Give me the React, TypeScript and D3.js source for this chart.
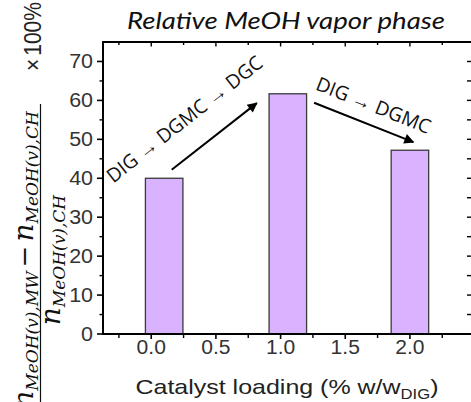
import React from "react";
import * as d3 from "d3";

// ---- data ----
const loadings = [0.0, 1.0, 2.0];
const barCenters = [0.1, 1.056, 2.0];
const values = [40.0, 61.7, 47.2];
const xTicks = [0, 0.5, 1.0, 1.5, 2.0];
const xMinorTicks = [-0.25, 0.25, 0.75, 1.25, 1.75, 2.25];
const yTicks = [0, 10, 20, 30, 40, 50, 60, 70];
const yMinorTicks = [5, 15, 25, 35, 45, 55, 65];
const arrows = [
  { x1: 0.158, y1: 42.2, x2: 0.816, y2: 59.3, label: "DIG → DGMC → DGC", lx: 0.254, ly: 55.3 },
  { x1: 1.259, y1: 59.4, x2: 2.027, y2: 49.3, label: "DIG → DGMC", lx: 1.72, ly: 58.9 },
];
const title = "Relative MeOH vapor phase";

const W = 471;
const H = 402;
const L = 103, R = 472, T = 42, B = 334;

export default function App() {
  const x = d3.scaleLinear().domain([-0.373, 2.48]).range([L, R]);
  const y = d3.scaleLinear().domain([0, 75]).range([B, T]);
  const bw = x(0.29) - x(0);
  const tickFont = "Liberation Sans, Arial, sans-serif";
  const fc = 260; // centre of the y-title fraction

  return (
    <svg width={W} height={H} style={{ position: "fixed", left: 0, top: 0, background: "#fff" }}>
      <defs>
        <marker id="ah" viewBox="0 0 10 10" refX="9" refY="5" markerWidth="6" markerHeight="5" orient="auto" markerUnits="strokeWidth">
          <path d="M0,0 L10,5 L0,10 z" fill="#000" />
        </marker>
      </defs>
      <rect x={0} y={0} width={W} height={H} fill="#fff" />
      {/* title */}
      <text x={286} y={29} textAnchor="middle" fontFamily="Lato, Open Sans, sans-serif" fontStyle="italic" fontSize={23}
        fill="#111" textLength={318} lengthAdjust="spacingAndGlyphs">
        {title}
      </text>

      {/* bars */}
      {values.map((v, i) => (
        <rect key={loadings[i]} x={x(barCenters[i]) - bw / 2} y={y(v)} width={bw} height={y(0) - y(v)}
          fill="#d9b3ff" stroke="#3a3a3a" strokeWidth={1.3} />
      ))}

      {/* frame */}
      <line x1={L} x2={L} y1={T - 1} y2={B + 1} stroke="#000" strokeWidth={2} />
      <line x1={L - 1} x2={R} y1={B} y2={B} stroke="#000" strokeWidth={2} />
      <line x1={L - 1} x2={R} y1={T} y2={T} stroke="#000" strokeWidth={2} />
      <line x1={R} x2={R} y1={T} y2={B} stroke="#000" strokeWidth={2} />

      {/* left ticks */}
      {yTicks.map((t) => (
        <g key={"yl" + t}>
          <line x1={L - 6} x2={L} y1={y(t)} y2={y(t)} stroke="#000" strokeWidth={1.6} />
          <text transform={`translate(93,${y(t) + 7}) scale(1.1,1)`} textAnchor="end" fontFamily={tickFont} fontSize={19.5} fill="#333">{t}</text>
        </g>
      ))}
      {yMinorTicks.map((t) => (
        <line key={"ym" + t} x1={L - 3.5} x2={L} y1={y(t)} y2={y(t)} stroke="#000" strokeWidth={1.4} />
      ))}
      {/* right ticks (inward) */}
      {[...yTicks, ...yMinorTicks].filter((t) => t > 0).map((t) => (
        <line key={"yr" + t} x1={R - 5} x2={R} y1={y(t)} y2={y(t)} stroke="#000" strokeWidth={1.4} />
      ))}

      {/* bottom ticks */}
      {xTicks.map((t) => (
        <g key={"xb" + t}>
          <line x1={x(t)} x2={x(t)} y1={B} y2={B + 5} stroke="#000" strokeWidth={1.6} />
          <text transform={`translate(${x(t)},354) scale(1.08,1)`} textAnchor="middle" fontFamily={tickFont} fontSize={19.5} fill="#333">{t.toFixed(1)}</text>
        </g>
      ))}
      {xMinorTicks.map((t) => (
        <line key={"xm" + t} x1={x(t)} x2={x(t)} y1={B} y2={B + 4} stroke="#000" strokeWidth={1.4} />
      ))}
      {/* top ticks (inward) */}
      {[...xTicks, ...xMinorTicks].map((t) => (
        <line key={"xt" + t} x1={x(t)} x2={x(t)} y1={T} y2={T + (xTicks.includes(t) ? 4.5 : 3)} stroke="#000" strokeWidth={1.4} />
      ))}

      {/* arrows */}
      {arrows.map((a) => {
        const dx = x(a.x2) - x(a.x1);
        const dy = y(a.y2) - y(a.y1);
        const ang = (Math.atan2(dy, dx) * 180) / Math.PI;
        return (
          <g key={a.label}>
            <line x1={x(a.x1)} y1={y(a.y1)} x2={x(a.x2)} y2={y(a.y2)} stroke="#000" strokeWidth={2} markerEnd="url(#ah)" />
            <text transform={`translate(${x(a.lx)},${y(a.ly)}) rotate(${ang})`} textAnchor="middle" dominantBaseline="central"
              fontFamily="Open Sans, sans-serif" fontSize={19.5} fill="#111">{a.label}</text>
          </g>
        );
      })}

      {/* x axis title */}
      <text x={287} y={394} textAnchor="middle" fontFamily={tickFont} fontSize={21} fill="#222" textLength={303} lengthAdjust="spacingAndGlyphs">
        Catalyst loading (% w/w<tspan fontSize={14} dy={5}>DIG</tspan><tspan dy={-5}>)</tspan>
      </text>

      {/* y axis title: fraction */}
      <g transform="rotate(-90)">
        <text x={-fc} y={33} textAnchor="middle" fontFamily="DejaVu Serif, serif" fill="#111">
          <tspan fontStyle="italic" fontSize={28}>n</tspan>
          <tspan fontStyle="italic" fontSize={17} dy={5}>MeOH(v),MW</tspan>
          <tspan fontSize={26} dy={-5} dx={4}>−</tspan>
          <tspan fontStyle="italic" fontSize={28} dx={4}>n</tspan>
          <tspan fontStyle="italic" fontSize={17} dy={5}>MeOH(v),CH</tspan>
        </text>
        <line x1={-104} x2={-440} y1={40.5} y2={40.5} stroke="#111" strokeWidth={1.2} />
        <text x={-fc} y={60} textAnchor="middle" fontFamily="DejaVu Serif, serif" fill="#111">
          <tspan fontStyle="italic" fontSize={28}>n</tspan>
          <tspan fontStyle="italic" fontSize={17} dy={5}>MeOH(v),CH</tspan>
        </text>
        <text transform="translate(-71,41) scale(1,1.12)" textAnchor="start" fontFamily={tickFont} fontSize={21} fill="#222">
          ×<tspan dx={3}>100%</tspan>
        </text>
      </g>
    </svg>
  );
}
